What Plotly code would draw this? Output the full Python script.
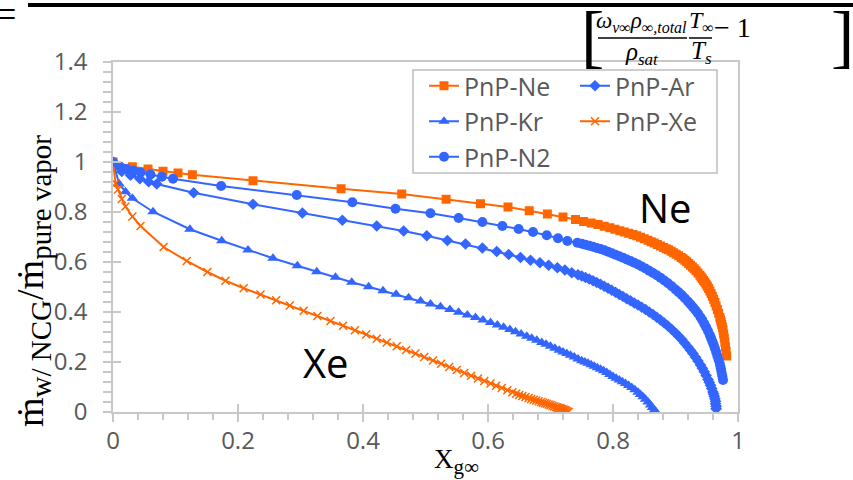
import plotly.graph_objects as go

# ---------------- data ----------------
ne_x = [0.000, 0.031, 0.056, 0.080, 0.104, 0.127, 0.224, 0.365, 0.462, 0.533,
        0.588, 0.632, 0.666, 0.695, 0.720, 0.740, 0.753, 0.765, 0.776, 0.786,
        0.795, 0.803, 0.811, 0.818, 0.825, 0.832, 0.838, 0.844, 0.850, 0.856,
        0.861, 0.866, 0.871, 0.876, 0.881, 0.885, 0.889, 0.893, 0.897, 0.901,
        0.905, 0.909, 0.912, 0.915, 0.918, 0.921, 0.924, 0.927, 0.930, 0.933,
        0.936, 0.939, 0.941, 0.943, 0.945, 0.947, 0.949, 0.951, 0.953, 0.955,
        0.957, 0.959, 0.961, 0.963, 0.965, 0.967, 0.969, 0.971, 0.972, 0.973,
        0.974, 0.975, 0.976, 0.977, 0.978, 0.979, 0.980, 0.981, 0.982]
ne_y = [1.000, 0.981, 0.972, 0.963, 0.956, 0.949, 0.925, 0.893, 0.872, 0.851,
        0.833, 0.820, 0.805, 0.792, 0.780, 0.770, 0.762, 0.756, 0.750, 0.743,
        0.737, 0.731, 0.725, 0.720, 0.715, 0.710, 0.705, 0.699, 0.693, 0.687,
        0.681, 0.676, 0.670, 0.664, 0.658, 0.653, 0.649, 0.643, 0.637, 0.631,
        0.625, 0.618, 0.613, 0.607, 0.601, 0.594, 0.587, 0.580, 0.573, 0.565,
        0.556, 0.547, 0.540, 0.533, 0.526, 0.519, 0.511, 0.503, 0.494, 0.484,
        0.474, 0.463, 0.451, 0.438, 0.424, 0.410, 0.395, 0.378, 0.369, 0.360,
        0.350, 0.339, 0.328, 0.312, 0.296, 0.279, 0.261, 0.243, 0.224]

ar_x = [0.000, 0.014, 0.028, 0.043, 0.057, 0.070, 0.129, 0.224, 0.303, 0.367,
        0.422, 0.465, 0.502, 0.535, 0.564, 0.591, 0.614, 0.633, 0.652, 0.668,
        0.683, 0.697, 0.711, 0.723, 0.734, 0.744, 0.750, 0.756, 0.762, 0.768,
        0.774, 0.780, 0.786, 0.792, 0.798, 0.804, 0.810, 0.816, 0.822, 0.828,
        0.834, 0.840, 0.846, 0.852, 0.858, 0.864, 0.870, 0.876, 0.882, 0.888,
        0.894, 0.900, 0.905, 0.910, 0.915, 0.920, 0.924, 0.928, 0.932, 0.936,
        0.940, 0.943, 0.946, 0.949, 0.952, 0.954, 0.956, 0.958, 0.960, 0.961,
        0.962, 0.963, 0.964, 0.964, 0.965, 0.965]
ar_y = [1.000, 0.962, 0.947, 0.933, 0.921, 0.912, 0.877, 0.831, 0.796, 0.767,
        0.744, 0.724, 0.705, 0.686, 0.672, 0.656, 0.642, 0.630, 0.618, 0.607,
        0.597, 0.587, 0.577, 0.568, 0.557, 0.549, 0.544, 0.538, 0.532, 0.525,
        0.518, 0.511, 0.503, 0.495, 0.487, 0.479, 0.470, 0.462, 0.453, 0.445,
        0.436, 0.428, 0.419, 0.410, 0.400, 0.390, 0.379, 0.368, 0.356, 0.344,
        0.330, 0.316, 0.303, 0.290, 0.275, 0.260, 0.247, 0.234, 0.219, 0.204,
        0.188, 0.175, 0.161, 0.146, 0.130, 0.119, 0.107, 0.094, 0.080, 0.072,
        0.063, 0.053, 0.043, 0.033, 0.023, 0.013]

kr_x = [0.000, 0.010, 0.020, 0.031, 0.064, 0.123, 0.174, 0.216, 0.256, 0.295,
        0.326, 0.356, 0.382, 0.409, 0.432, 0.453, 0.473, 0.492, 0.508, 0.524,
        0.539, 0.553, 0.567, 0.580, 0.592, 0.604, 0.615, 0.625, 0.635, 0.644,
        0.653, 0.662, 0.670, 0.678, 0.686, 0.693, 0.700, 0.707, 0.714, 0.720,
        0.726, 0.732, 0.738, 0.744, 0.750, 0.755, 0.760, 0.765, 0.770, 0.775,
        0.780, 0.785, 0.790, 0.795, 0.800, 0.805, 0.810, 0.815, 0.820, 0.825,
        0.830, 0.835, 0.840, 0.844, 0.848, 0.852, 0.856, 0.860, 0.863, 0.866,
        0.869]
kr_y = [1.000, 0.912, 0.881, 0.855, 0.801, 0.731, 0.685, 0.648, 0.615, 0.585,
        0.561, 0.539, 0.519, 0.501, 0.485, 0.471, 0.457, 0.444, 0.432, 0.421,
        0.410, 0.399, 0.388, 0.378, 0.368, 0.358, 0.348, 0.339, 0.330, 0.321,
        0.312, 0.303, 0.295, 0.287, 0.278, 0.271, 0.263, 0.255, 0.247, 0.240,
        0.234, 0.227, 0.220, 0.212, 0.205, 0.200, 0.195, 0.189, 0.183, 0.177,
        0.171, 0.165, 0.158, 0.150, 0.142, 0.135, 0.128, 0.121, 0.114, 0.106,
        0.098, 0.089, 0.079, 0.070, 0.061, 0.051, 0.040, 0.028, 0.018, 0.008,
        0.000]

xe_x = [0.000, 0.004, 0.008, 0.014, 0.020, 0.031, 0.044, 0.081, 0.118, 0.151,
        0.180, 0.209, 0.236, 0.261, 0.283, 0.305, 0.327, 0.348, 0.368, 0.387,
        0.405, 0.422, 0.438, 0.454, 0.469, 0.484, 0.498, 0.512, 0.525, 0.538,
        0.550, 0.562, 0.573, 0.584, 0.594, 0.604, 0.613, 0.622, 0.631, 0.639,
        0.645, 0.650, 0.655, 0.660, 0.665, 0.669, 0.673, 0.677, 0.681, 0.685,
        0.688, 0.691, 0.694, 0.697, 0.700, 0.703, 0.706, 0.709, 0.711, 0.713,
        0.715, 0.717, 0.719, 0.721, 0.723, 0.725, 0.727, 0.729]
xe_y = [1.000, 0.915, 0.890, 0.852, 0.822, 0.782, 0.744, 0.660, 0.604, 0.560,
        0.525, 0.495, 0.470, 0.447, 0.426, 0.405, 0.384, 0.364, 0.345, 0.327,
        0.310, 0.293, 0.278, 0.263, 0.248, 0.234, 0.220, 0.206, 0.193, 0.180,
        0.168, 0.156, 0.145, 0.134, 0.124, 0.114, 0.105, 0.096, 0.087, 0.079,
        0.073, 0.068, 0.064, 0.060, 0.056, 0.052, 0.049, 0.046, 0.043, 0.040,
        0.037, 0.035, 0.033, 0.030, 0.028, 0.025, 0.022, 0.020, 0.018, 0.016,
        0.015, 0.013, 0.011, 0.009, 0.007, 0.005, 0.002, 0.000]

n2_x = [0.000, 0.011, 0.022, 0.033, 0.044, 0.060, 0.078, 0.096, 0.173, 0.294,
        0.383, 0.452, 0.508, 0.553, 0.591, 0.623, 0.649, 0.672, 0.694, 0.712,
        0.727, 0.743, 0.750, 0.756, 0.762, 0.768, 0.774, 0.780, 0.786, 0.792,
        0.798, 0.804, 0.810, 0.816, 0.822, 0.828, 0.834, 0.840, 0.846, 0.852,
        0.858, 0.864, 0.870, 0.876, 0.882, 0.888, 0.894, 0.900, 0.905, 0.910,
        0.915, 0.920, 0.924, 0.928, 0.932, 0.936, 0.940, 0.943, 0.946, 0.949,
        0.952, 0.955, 0.957, 0.959, 0.961, 0.963, 0.965, 0.967, 0.969, 0.971,
        0.972, 0.973, 0.974, 0.975, 0.976]
n2_y = [1.000, 0.982, 0.972, 0.965, 0.958, 0.950, 0.941, 0.933, 0.904, 0.868,
        0.839, 0.813, 0.795, 0.776, 0.760, 0.744, 0.732, 0.720, 0.707, 0.695,
        0.684, 0.677, 0.673, 0.669, 0.665, 0.661, 0.656, 0.652, 0.647, 0.641,
        0.635, 0.629, 0.623, 0.617, 0.610, 0.604, 0.597, 0.590, 0.582, 0.574,
        0.565, 0.556, 0.547, 0.537, 0.526, 0.515, 0.503, 0.490, 0.479, 0.468,
        0.455, 0.442, 0.431, 0.419, 0.407, 0.394, 0.379, 0.367, 0.353, 0.339,
        0.324, 0.307, 0.295, 0.282, 0.269, 0.255, 0.240, 0.224, 0.208, 0.192,
        0.180, 0.168, 0.155, 0.142, 0.128]

x_tick_vals = [0, 0.2, 0.4, 0.6, 0.8, 1]
x_tick_text = ["0", "0.2", "0.4", "0.6", "0.8", "1"]
y_tick_vals = [0, 0.2, 0.4, 0.6, 0.8, 1, 1.2, 1.4]
y_tick_text = ["0", "0.2", "0.4", "0.6", "0.8", "1", "1.2", "1.4"]

# ---------------- styling ----------------
ORANGE = "#FF6600"
BLUE = "#3366FF"
GRAY_TXT = "#595959"
AX = "#C8C8C8"
W, H = 853, 480
ML, MR, MT, MB = 113, 115, 62, 68
PW, PH = W - ML - MR, H - MT - MB


def xp(px):
    return (px - ML) / PW


def yp(py):
    return (H - MB - py) / PH


fig = go.Figure()
series = [
    ("PnP-Ne", ne_x, ne_y, ORANGE, dict(symbol="square", size=9), "legend"),
    ("PnP-Ar", ar_x, ar_y, BLUE, dict(symbol="diamond", size=9), "legend2"),
    ("PnP-Kr", kr_x, kr_y, BLUE, dict(symbol="triangle-up", size=10), "legend"),
    ("PnP-Xe", xe_x, xe_y, ORANGE, dict(symbol="x-thin", size=8,
                                        line=dict(width=1.5, color=ORANGE)), "legend2"),
    ("PnP-N2", n2_x, n2_y, BLUE, dict(symbol="circle", size=10), "legend"),
]
for name, xs, ys, col, mk, lg in series:
    mk = dict(mk)
    mk["color"] = col
    fig.add_trace(go.Scatter(x=xs, y=ys, name=name, mode="lines+markers",
                             line=dict(color=col, width=2), marker=mk,
                             legend=lg, legendgroup=name))

# empty trace so the overlay axes (inner half of the cross ticks) get drawn
fig.add_trace(go.Scatter(x=[], y=[], xaxis="x2", yaxis="y2", showlegend=False,
                         hoverinfo="skip"))

axis_common = dict(
    showgrid=False, zeroline=False, showline=True, linecolor=AX, linewidth=1.5,
    mirror=True, ticks="outside", ticklen=8, tickcolor=AX, tickwidth=1.5,
    tickfont=dict(family="Open Sans", size=24, color=GRAY_TXT),
    tickmode="array",
)

inner_common = dict(showgrid=False, zeroline=False, showline=False, ticks="inside",
                    ticklen=8, tickcolor=AX, tickwidth=1.5, showticklabels=False,
                    tickmode="array")

leg_common = dict(font=dict(family="Open Sans", size=25, color=GRAY_TXT),
                  bgcolor="rgba(0,0,0,0)", borderwidth=0, traceorder="grouped",
                  tracegroupgap=0, xanchor="left", yanchor="top", itemwidth=30)

shapes = [
    # legend frame
    dict(type="rect", xref="paper", yref="paper", x0=xp(413), x1=xp(717),
         y0=yp(173), y1=yp(70), line=dict(color="#BFBFBF", width=1.5)),
    # long division line at top
    dict(type="line", xref="paper", yref="paper", x0=xp(28), x1=xp(853),
         y0=yp(5), y1=yp(5), line=dict(color="black", width=4)),
    # fraction bars
    dict(type="line", xref="paper", yref="paper", x0=xp(598), x1=xp(687),
         y0=yp(38), y1=yp(38), line=dict(color="black", width=1.5)),
    dict(type="line", xref="paper", yref="paper", x0=xp(689), x1=xp(712),
         y0=yp(38), y1=yp(38), line=dict(color="black", width=1.5)),
]

SERIF = "Liberation Serif"


def ann(text, px, py, size, family=SERIF, color="black", xanchor="center",
        yanchor="middle", angle=0):
    return dict(text=text, x=xp(px), y=yp(py), xref="paper", yref="paper",
                showarrow=False, xanchor=xanchor, yanchor=yanchor, textangle=angle,
                font=dict(family=family, size=size, color=color))


def sub(t, px):
    return "<sub><span style='font-size:%dpx'>%s</span></sub>" % (px, t)


annotations = [
    ann("Ne", 665, 207, 40, family="Open Sans"),
    ann("Xe", 326, 362, 40, family="Open Sans"),
    ann("X" + sub("g∞", 21), 432, 461, 27, xanchor="left"),
    ann("ṁ" + sub("w/ NCG", 29) + "/ṁ" + sub("pure vapor", 29), 33, 281, 38, angle=-90),
    ann("=", 19, 15, 40, xanchor="right"),
    ann("[", 592, 36, 70),
    ann("]", 842, 36, 70),
    ann("<i>ω</i>" + sub("<i>v∞</i>", 16) + "<i>ρ</i>" + sub("<i>∞,total</i>", 16),
        641, 22, 23),
    ann("<i>ρ</i>" + sub("<i>sat</i>", 17), 642, 54, 25),
    ann("<i>T</i>" + sub("∞", 16), 701, 22, 24),
    ann("<i>T</i>" + sub("<i>s</i>", 17), 701, 53, 25),
    ann("− 1", 732, 28, 28),
]

fig.update_layout(
    width=W, height=H, margin=dict(l=ML, r=MR, t=MT, b=MB),
    paper_bgcolor="white", plot_bgcolor="white",
    showlegend=True,
    xaxis=dict(**axis_common, range=[0, 1], tickvals=x_tick_vals, ticktext=x_tick_text,
               minor=dict(dtick=0.04, tick0=0, ticks="outside", ticklen=6,
                          tickcolor=AX, tickwidth=1.5),
               ticklabelstandoff=-2),
    yaxis=dict(**axis_common, range=[0, 1.4], tickvals=y_tick_vals, ticktext=y_tick_text,
               minor=dict(dtick=0.04, tick0=0, ticks="outside", ticklen=8,
                          tickcolor=AX, tickwidth=1.5),
               ticklabelstandoff=11),
    xaxis2=dict(**inner_common, overlaying="x", anchor="y2", range=[0, 1],
                tickvals=x_tick_vals),
    yaxis2=dict(**inner_common, overlaying="y", anchor="x2", range=[0, 1.4],
                tickvals=y_tick_vals),
    legend=dict(**leg_common, x=xp(424), y=yp(63)),
    legend2=dict(**leg_common, x=xp(575), y=yp(63)),
    shapes=shapes, annotations=annotations,
)

fig.write_html("out.html", config={"displayModeBar": False},
               post_script="document.body.style.margin='0';")
